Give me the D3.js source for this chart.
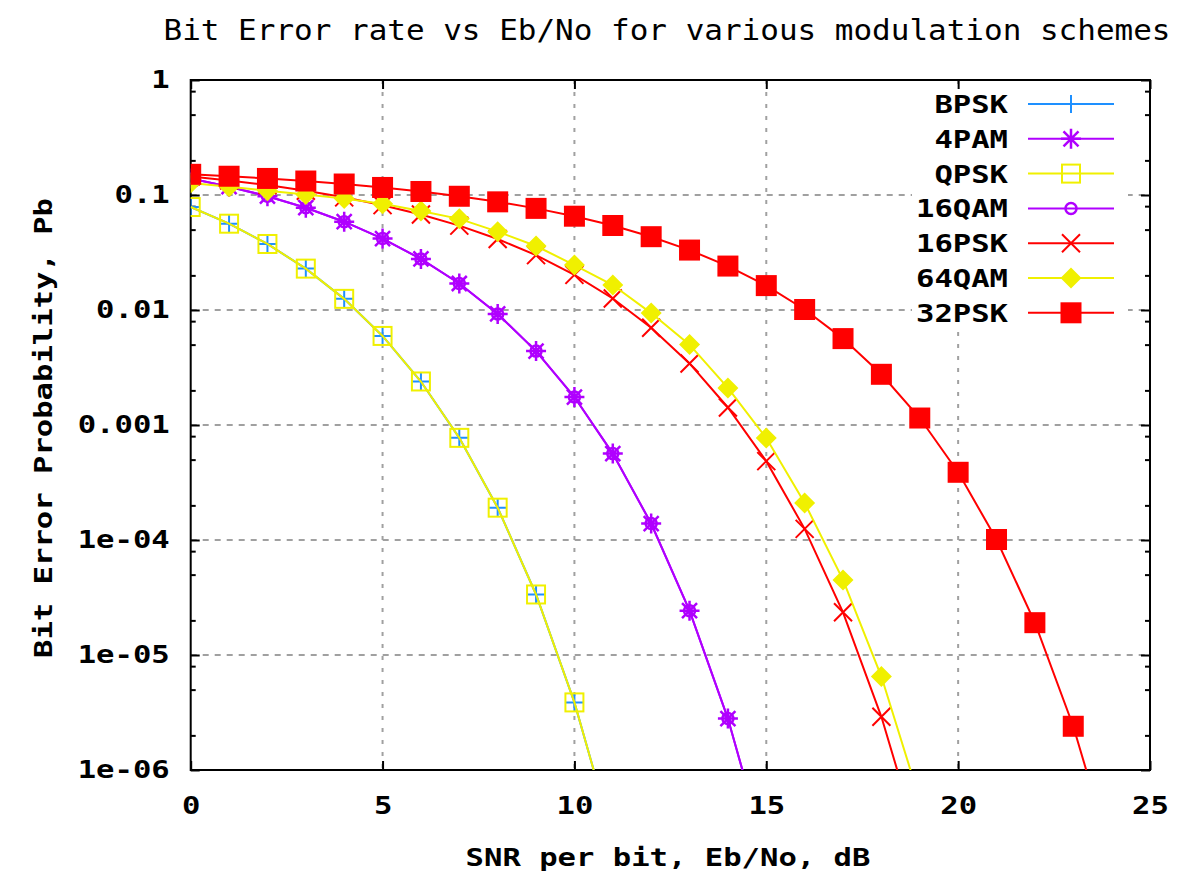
<!DOCTYPE html>
<html>
<head>
<meta charset="utf-8">
<script src="https://cdn.jsdelivr.net/npm/d3@7/dist/d3.min.js"></script>
<style>
  html, body { margin: 0; padding: 0; background: #fff; }
  svg { display: block; }
  .lbl { font-family: "DejaVu Sans Mono", "Liberation Mono", monospace; font-weight: bold; fill: #000; }
</style>
</head>
<body>
<svg id="chart" width="1196" height="872"></svg>
<script>
// --- data ---
var snrDb = [0, 1, 2, 3, 4, 5, 6, 7, 8, 9, 10, 11, 12, 13, 14, 15, 16, 17, 18, 19, 20, 21, 22, 23, 24];

var bpsk  = [0.0786, 0.0563, 0.0375, 0.0229, 0.0125, 0.00595, 0.00239, 0.000773, 0.000191, 3.36e-5, 3.87e-6, 2.61e-7];
var pam4  = [0.139, 0.118, 0.0976, 0.0775, 0.0586, 0.0418, 0.0278, 0.0170, 0.00924, 0.00439, 0.00175, 5.64e-4, 1.39e-4, 2.43e-5, 2.8e-6, 1.84e-7];
var qpsk  = [0.0786, 0.0563, 0.0375, 0.0229, 0.0125, 0.00595, 0.00239, 0.000773, 0.000191, 3.36e-5, 3.87e-6, 2.61e-7];
var qam16 = [0.139, 0.118, 0.0976, 0.0775, 0.0586, 0.0418, 0.0278, 0.0170, 0.00924, 0.00439, 0.00175, 5.64e-4, 1.39e-4, 2.43e-5, 2.8e-6, 1.84e-7];
var psk16 = [0.145, 0.134, 0.122, 0.109, 0.0954, 0.0816, 0.0677, 0.0542, 0.0414, 0.0300, 0.0202, 0.0126, 0.0070, 0.00343, 0.00142, 4.85e-4, 1.25e-4, 2.35e-5, 2.9e-6, 2.2e-7];
var qam64 = [0.127, 0.118, 0.109, 0.101, 0.093, 0.084, 0.0725, 0.062, 0.048, 0.036, 0.0246, 0.0165, 0.0094, 0.0050, 0.0021, 7.7e-4, 2.1e-4, 4.5e-5, 6.5e-6, 5.5e-7];
var psk32 = [0.1513, 0.1456, 0.1393, 0.1323, 0.1246, 0.1163, 0.1073, 0.0975, 0.0872, 0.0765, 0.0654, 0.0543, 0.0434, 0.0332, 0.0241, 0.0163, 0.0101, 0.00564, 0.00276, 0.00115, 3.88e-4, 1.01e-4, 1.91e-5, 2.4e-6, 1.8e-7];

var seriesNames = ["BPSK", "4PAM", "QPSK", "16QAM", "16PSK", "64QAM", "32PSK"];
var seriesValues = [bpsk, pam4, qpsk, qam16, psk16, qam64, psk32];

var xTicks = [0, 5, 10, 15, 20, 25];
var yTicks = [1, 0.1, 0.01, 0.001, 1e-4, 1e-5, 1e-6];
var yTickLabels = ["1", "0.1", "0.01", "0.001", "1e-04", "1e-05", "1e-06"];

var titleText = "Bit Error rate vs Eb/No for various modulation schemes";
var xLabelText = "SNR per bit, Eb/No, dB";
var yLabelText = "Bit Error Probability, Pb";

(function () {
	// --- look ---
	var styles = {
		"BPSK":  { color: "#1e90ff", marker: "plus" },
		"4PAM":  { color: "#b000ff", marker: "star" },
		"QPSK":  { color: "#f0f000", marker: "box" },
		"16QAM": { color: "#b000ff", marker: "circle" },
		"16PSK": { color: "#ff0000", marker: "cross" },
		"64QAM": { color: "#f0f000", marker: "diamond" },
		"32PSK": { color: "#ff0000", marker: "fbox" }
	};

	var pLeft = 190.7, pRight = 1150, pTop = 80, pBottom = 770;
	var charW = 18.4;

	var svg = d3.select("#chart");

	var x = d3.scaleLinear().domain([0, 25]).range([pLeft, pRight]);
	var y = d3.scaleLog().domain([1e-6, 1]).range([pBottom, pTop]);

	svg.append("defs").append("clipPath").attr("id", "plotclip")
		.append("rect").attr("x", pLeft).attr("y", pTop).attr("width", pRight - pLeft).attr("height", pBottom - pTop);

	// grid
	var grid = svg.append("g");
	grid.selectAll("line.gx").data(xTicks.slice(1, -1)).enter().append("line")
		.attr("x1", function (d) { return x(d); }).attr("x2", function (d) { return x(d); })
		.attr("y1", pTop).attr("y2", pBottom)
		.style("stroke", "#a0a0a0").style("stroke-width", 2).style("stroke-dasharray", "4,8");
	grid.selectAll("line.gy").data(yTicks.slice(1, -1)).enter().append("line")
		.attr("x1", pLeft).attr("x2", pRight)
		.attr("y1", function (d) { return y(d); }).attr("y2", function (d) { return y(d); })
		.style("stroke", "#a0a0a0").style("stroke-width", 2).style("stroke-dasharray", "6,6");

	// legend background hides the grid under it
	svg.append("rect").attr("x", 912).attr("y", 88).attr("width", 216).attr("height", 240).style("fill", "#fff");

	// minor ticks on the log axis (the picture shows 2, 5 and 8 per decade)
	var minorY = [];
	yTicks.slice(0, -1).forEach(function (d) {
		[0.8, 0.5, 0.2].forEach(function (m) { minorY.push(d * m); });
	});

	function styleAxis(g) {
		g.select(".domain").remove();
		g.selectAll(".tick line").style("stroke", "#000").style("stroke-width", 2);
	}

	function boldText(sel, str) {
		sel.attr("class", "lbl").style("font-size", "24px")
			.attr("textLength", str.length * charW).attr("lengthAdjust", "spacingAndGlyphs");
	}

	var xAxis = svg.append("g").attr("transform", "translate(0," + pBottom + ")")
		.call(d3.axisBottom(x).tickValues(xTicks).tickSizeInner(-9).tickSizeOuter(0).tickPadding(27).tickFormat(d3.format("d")));
	styleAxis(xAxis);
	xAxis.selectAll(".tick text").each(function (d) { boldText(d3.select(this), String(d)); });

	svg.append("g").attr("transform", "translate(0," + pTop + ")")
		.call(d3.axisTop(x).tickValues(xTicks).tickSizeInner(-9).tickSizeOuter(0).tickFormat(""))
		.call(styleAxis);

	var yAxis = svg.append("g").attr("transform", "translate(" + pLeft + ",0)")
		.call(d3.axisLeft(y).tickValues(yTicks).tickSizeInner(-9).tickSizeOuter(0).tickPadding(21)
			.tickFormat(function (d, i) { return yTickLabels[i]; }));
	styleAxis(yAxis);
	yAxis.selectAll(".tick text").each(function (d, i) { boldText(d3.select(this), yTickLabels[i]); });

	svg.append("g").attr("transform", "translate(" + pRight + ",0)")
		.call(d3.axisRight(y).tickValues(yTicks).tickSizeInner(-9).tickSizeOuter(0).tickFormat(""))
		.call(styleAxis);

	svg.append("g").attr("transform", "translate(" + pLeft + ",0)")
		.call(d3.axisLeft(y).tickValues(minorY).tickSizeInner(-5).tickSizeOuter(0).tickFormat(""))
		.call(styleAxis);
	svg.append("g").attr("transform", "translate(" + pRight + ",0)")
		.call(d3.axisRight(y).tickValues(minorY).tickSizeInner(-5).tickSizeOuter(0).tickFormat(""))
		.call(styleAxis);

	// border
	svg.append("rect").attr("x", pLeft).attr("y", pTop).attr("width", pRight - pLeft).attr("height", pBottom - pTop)
		.style("fill", "none").style("stroke", "#000").style("stroke-width", 2);

	// markers
	function drawMarker(g, type, color, cx, cy) {
		var m = g.append("g").attr("transform", "translate(" + cx + "," + cy + ")");
		if (type == "plus") {
			m.append("path").attr("d", "M-9,0H9M0,-9V9").style("stroke", color).style("stroke-width", 2).style("fill", "none");
		} else if (type == "star") {
			m.append("path").attr("d", "M-10,0H10M0,-10V10M-7.5,-7.5L7.5,7.5M-7.5,7.5L7.5,-7.5").style("stroke", color).style("stroke-width", 2.5).style("fill", "none");
		} else if (type == "box") {
			m.append("rect").attr("x", -9).attr("y", -9).attr("width", 18).attr("height", 18)
				.style("stroke", color).style("stroke-width", 2).style("fill", "none");
		} else if (type == "circle") {
			m.append("circle").attr("r", 5.5).style("stroke", color).style("stroke-width", 2.5).style("fill", "none");
		} else if (type == "cross") {
			m.append("path").attr("d", "M-9,-9L9,9M-9,9L9,-9").style("stroke", color).style("stroke-width", 2).style("fill", "none");
		} else if (type == "diamond") {
			m.append("path").attr("d", "M0,-10.5L10.5,0L0,10.5L-10.5,0Z").style("fill", color);
		} else if (type == "fbox") {
			m.append("rect").attr("x", -10.5).attr("y", -10.5).attr("width", 21).attr("height", 21).style("fill", color);
		}
	}

	var line = d3.line()
		.x(function (d, i) { return x(snrDb[i]); })
		.y(function (d) { return y(d); });

	var plot = svg.append("g").attr("clip-path", "url(#plotclip)");

	seriesNames.forEach(function (name, k) {
		var vals = seriesValues[k];
		var st = styles[name];
		plot.append("path").datum(vals).attr("d", line)
			.style("fill", "none").style("stroke", st.color).style("stroke-width", 2);
		var mg = plot.append("g");
		vals.forEach(function (v, i) {
			if (v >= 1e-6) drawMarker(mg, st.marker, st.color, x(snrDb[i]), y(v));
		});
	});

	// legend
	var legend = svg.append("g");
	seriesNames.forEach(function (name, k) {
		var st = styles[name];
		var ly = 104 + k * 34.8;
		var t = legend.append("text").attr("x", 1008).attr("y", ly + 9).attr("text-anchor", "end").text(name);
		boldText(t, name);
		legend.append("line").attr("x1", 1028).attr("x2", 1114).attr("y1", ly).attr("y2", ly)
			.style("stroke", st.color).style("stroke-width", 2);
		drawMarker(legend, st.marker, st.color, 1071, ly);
	});

	// titles
	svg.append("text").attr("x", 667).attr("y", 40).attr("text-anchor", "middle")
		.style("font-family", "'DejaVu Sans Mono', monospace").style("font-size", "28px").style("fill", "#000")
		.attr("textLength", 1007).attr("lengthAdjust", "spacingAndGlyphs")
		.text(titleText);

	var xl = svg.append("text").attr("x", 668).attr("y", 866).attr("text-anchor", "middle").text(xLabelText);
	boldText(xl, xLabelText);

	var yl = svg.append("text").attr("transform", "translate(52,428) rotate(-90)").attr("text-anchor", "middle").text(yLabelText);
	boldText(yl, yLabelText);
})();
</script>
</body>
</html>
